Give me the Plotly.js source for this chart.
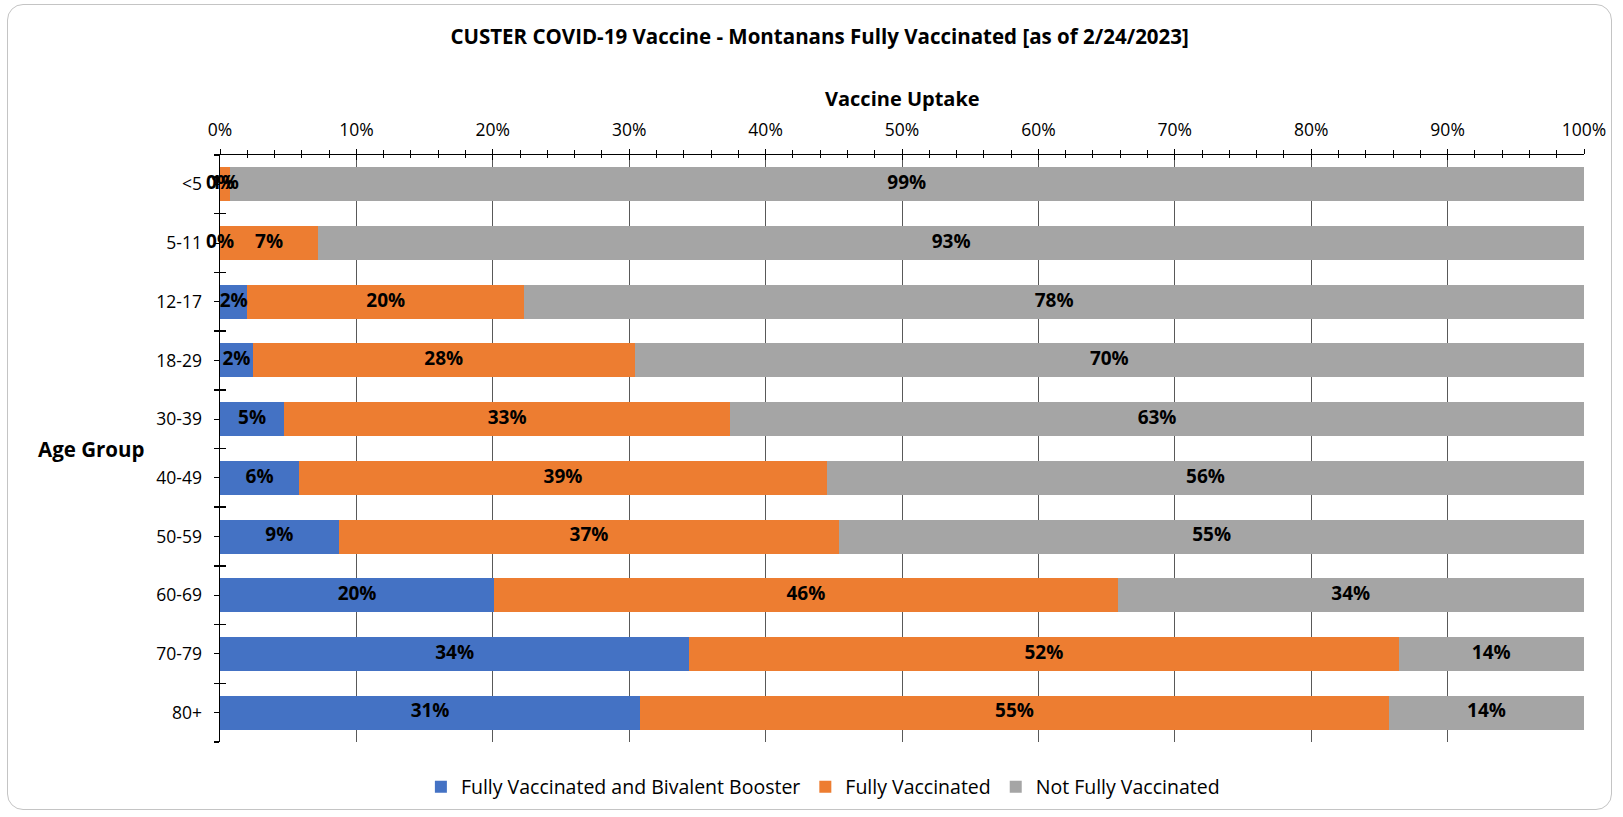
<!DOCTYPE html>
<html>
<head>
<meta charset="utf-8">
<script src="https://cdn.plot.ly/plotly-3.0.1.min.js"></script>
<style>
  html, body { margin: 0; padding: 0; background: #ffffff; }
  #frame { position: absolute; left: 7px; top: 4px; width: 1605px; height: 806px;
           border: 1.5px solid #c4c4c4; border-radius: 16px; box-sizing: border-box; }
  #chart { position: absolute; left: 0; top: 0; width: 1623px; height: 817px; }
</style>
</head>
<body>
<div id="frame"></div>
<div id="chart"></div>
<script>
// ---- data ----
const categories = ['<5', '5-11', '12-17', '18-29', '30-39', '40-49', '50-59', '60-69', '70-79', '80+'];
const boosterPct = [0, 0, 2.0, 2.4, 4.7, 5.8, 8.7, 20.1, 34.4, 30.8];
const fullyPct   = [0.7, 7.2, 20.3, 28.0, 32.7, 38.7, 36.7, 45.7, 52.0, 54.9];
const notPct     = [99.3, 92.8, 77.7, 69.6, 62.6, 55.5, 54.6, 34.2, 13.6, 14.3];
const seriesNames = ['Fully Vaccinated and Bivalent Booster', 'Fully Vaccinated', 'Not Fully Vaccinated'];
const seriesColors = ['#4472C4', '#ED7D31', '#A5A5A5'];
const chartTitle = 'CUSTER COVID-19 Vaccine - Montanans Fully Vaccinated [as of 2/24/2023]';
const xTitle = 'Vaccine Uptake';
const yTitle = 'Age Group';

const FONT = 'Open Sans, Noto Sans, sans-serif';
const seriesValues = [boosterPct, fullyPct, notPct];

const traces = [];
seriesValues.forEach((vals, i) => {
  traces.push({
    type: 'bar', orientation: 'h', name: seriesNames[i],
    x: vals, y: categories,
    marker: { color: seriesColors[i], line: { width: 0 } },
    hoverinfo: 'skip'
  });
});

// data labels centred in each segment (computed from the stacked values)
const base = categories.map(() => 0);
seriesValues.forEach((vals, i) => {
  const mids = vals.map((v, k) => base[k] + v / 2);
  vals.forEach((v, k) => { base[k] += v; });
  traces.push({
    type: 'scatter', mode: 'text', showlegend: false, hoverinfo: 'skip',
    x: mids, y: categories, xaxis: 'x2', yaxis: 'y',
    text: vals.map(v => Math.round(v) + '%'),
    textposition: 'middle center',
    textfont: { family: FONT, size: 19, color: '#000000', weight: 'bold' },
    cliponaxis: false
  });
});

// empty helper traces so the decorative tick axes are drawn
const bounds = [];
for (let k = 0; k <= categories.length; k++) bounds.push(k - 0.5);
traces.push({ type: 'scatter', x: [], y: [], xaxis: 'x', yaxis: 'y2', showlegend: false, hoverinfo: 'skip' });
traces.push({ type: 'scatter', x: [], y: [], xaxis: 'x', yaxis: 'y3', showlegend: false, hoverinfo: 'skip' });

const tickFont = { family: FONT, size: 17.5, color: '#000000' };

const layout = {
  width: 1623, height: 817,
  paper_bgcolor: 'rgba(0,0,0,0)', plot_bgcolor: 'rgba(0,0,0,0)',
  margin: { l: 220, r: 39, t: 155, b: 74 },
  barmode: 'stack', bargap: 0.42,
  showlegend: true,
  title: {
    text: chartTitle, x: 0.505, xanchor: 'center', y: 0.955, yanchor: 'middle', yref: 'container',
    font: { family: FONT, size: 20.5, color: '#000000', weight: 'bold' }
  },
  xaxis: {
    side: 'top', range: [0, 100], dtick: 10, ticksuffix: '%', fixedrange: true,
    showgrid: true, gridcolor: '#595959', gridwidth: 1, zeroline: false,
    showline: true, linecolor: '#000000', linewidth: 1,
    ticks: 'outside', ticklen: 5, tickcolor: '#000000', tickwidth: 1,
    minor: { dtick: 2, ticks: 'outside', ticklen: 4, tickcolor: '#000000', showgrid: false },
    tickfont: tickFont, ticklabelstandoff: 6
  },
  xaxis2: {
    overlaying: 'x', matches: 'x', side: 'top', range: [0, 100], dtick: 10,
    showgrid: false, zeroline: false, showline: false, showticklabels: false,
    ticks: 'inside', ticklen: 5, tickcolor: '#000000',
    minor: { dtick: 2, ticks: 'inside', ticklen: 3, tickcolor: '#000000', showgrid: false }
  },
  yaxis: {
    type: 'category', categoryorder: 'array', categoryarray: categories,
    autorange: 'reversed', fixedrange: true,
    showgrid: false, zeroline: false,
    showline: true, linecolor: '#000000', linewidth: 1.5,
    ticks: 'outside', ticklen: 5, tickcolor: '#000000',
    tickfont: tickFont, ticklabelstandoff: 8
  },
  yaxis2: {
    overlaying: 'y', side: 'left', range: [categories.length - 0.5, -0.5],
    tickmode: 'array', tickvals: bounds, showticklabels: false,
    showgrid: false, zeroline: false, showline: false,
    ticks: 'outside', ticklen: 5, tickcolor: '#000000', tickwidth: 1.5
  },
  yaxis3: {
    overlaying: 'y', side: 'left', range: [categories.length - 0.5, -0.5],
    tickmode: 'array', tickvals: bounds, showticklabels: false,
    showgrid: false, zeroline: false, showline: false,
    ticks: 'inside', ticklen: 6, tickcolor: '#000000', tickwidth: 1.5
  },
  legend: {
    orientation: 'h', traceorder: 'normal', x: 0.442, xanchor: 'center', y: -0.075, yanchor: 'middle',
    font: { family: FONT, size: 19.5, color: '#000000' },
    itemwidth: 30, tracegroupgap: 0, bgcolor: 'rgba(0,0,0,0)'
  },
  annotations: [
    { text: xTitle, xref: 'paper', yref: 'paper', x: 0.5, y: 1 + 57 / 588, xanchor: 'center', yanchor: 'middle',
      showarrow: false, font: { family: FONT, size: 20, color: '#000000', weight: 'bold' } },
    { text: yTitle, xref: 'paper', yref: 'paper', x: -0.0946, y: 0.5, xanchor: 'center', yanchor: 'middle',
      showarrow: false, font: { family: FONT, size: 20.5, color: '#000000', weight: 'bold' } }
  ]
};

Plotly.newPlot('chart', traces, layout, { displayModeBar: false, staticPlot: true });
</script>
</body>
</html>
